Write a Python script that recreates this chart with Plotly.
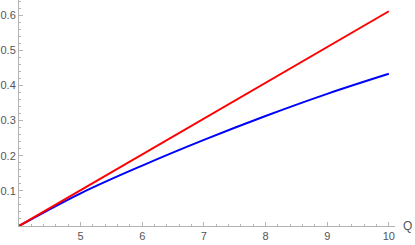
import plotly.graph_objects as go

q_values = [4, 5, 6, 7, 8, 9, 10]
red_values = [0.0, 0.1018, 0.2036, 0.3054, 0.4072, 0.509, 0.611]
blue_values = [0.0, 0.093, 0.172, 0.245, 0.313, 0.376, 0.433]
x_tick_vals = [5, 6, 7, 8, 9, 10]
y_tick_vals = [0.1, 0.2, 0.3, 0.4, 0.5, 0.6]
y_tick_text = ["0.1", "0.2", "0.3", "0.4", "0.5", "0.6"]

fig = go.Figure()
fig.add_trace(go.Scatter(x=q_values, y=blue_values, mode="lines",
                         line=dict(color="rgb(0,0,255)", width=2, shape="spline")))
fig.add_trace(go.Scatter(x=q_values, y=red_values, mode="lines",
                         line=dict(color="rgb(255,0,0)", width=2)))

axis_color = "#b3b3b3"
font = dict(family="Liberation Sans, Arial, sans-serif", size=11, color="#555555")

fig.update_layout(
    template="none",
    width=415, height=245,
    margin=dict(l=19, r=20, t=0, b=19, pad=0, autoexpand=False),
    paper_bgcolor="white", plot_bgcolor="white",
    showlegend=False,
    font=font,
    xaxis=dict(range=[4, 10.1], showgrid=False, zeroline=False, automargin=False,
               showline=True, linecolor=axis_color, linewidth=1,
               ticks="inside", ticklen=4, tickcolor=axis_color,
               tickvals=x_tick_vals, tickfont=font,
               minor=dict(ticks="inside", ticklen=2, tickcolor=axis_color,
                          tick0=4, dtick=0.2, showgrid=False),
               fixedrange=True),
    yaxis=dict(range=[0, 0.643], showgrid=False, zeroline=False, automargin=False,
               showline=True, linecolor=axis_color, linewidth=1,
               ticks="inside", ticklen=4, tickcolor=axis_color,
               tickvals=y_tick_vals, ticktext=y_tick_text, tickfont=font,
               minor=dict(ticks="inside", ticklen=2, tickcolor=axis_color,
                          tick0=0, dtick=0.02, showgrid=False),
               fixedrange=True),
    annotations=[dict(text="Q", x=1, xref="paper", xanchor="left", xshift=6,
                      y=0, yref="paper", yanchor="middle", showarrow=False,
                      font=dict(family="Liberation Sans, Arial, sans-serif", size=12, color="#555555"))],
)

fig.write_html("out.html", config={"displayModeBar": False},
               post_script="document.body.style.margin='0';document.body.style.overflow='hidden';")
